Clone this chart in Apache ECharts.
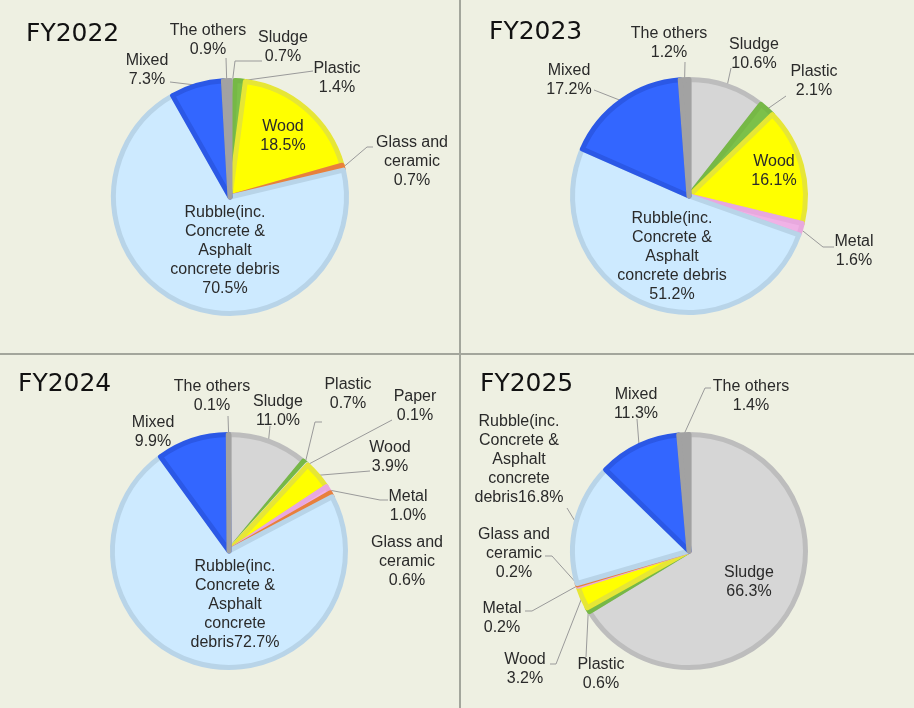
<!DOCTYPE html>
<html>
<head>
<meta charset="utf-8">
<title>Waste composition FY2022-FY2025</title>
<script src="https://cdn.jsdelivr.net/npm/echarts@6/dist/echarts.min.js"></script>
<style>
html, body { margin: 0; padding: 0; background: #eef0e2; }
#chart { width: 914px; height: 708px; }
</style>
</head>
<body>
<div id="chart"></div>
<script>
// data, clockwise from 12 o'clock
const years = ['FY2022', 'FY2023', 'FY2024', 'FY2025']
const categories = ['Sludge', 'Plastic', 'Paper', 'Wood', 'Metal', 'Glass and\nceramic',
  'Rubble(inc.\nConcrete &\nAsphalt\nconcrete debris', 'Mixed', 'The others']
const fy2022 = [0.7, 1.4, null, 18.5, null, 0.7, 70.5, 7.3, 0.9]
const fy2023 = [10.6, 2.1, null, 16.1, 1.6, null, 51.2, 17.2, 1.2]
const fy2024 = [11.0, 0.7, 0.1, 3.9, 1.0, 0.6, 72.7, 9.9, 0.1]
const fy2025 = [66.3, 0.6, null, 3.2, 0.2, 0.2, 16.8, 11.3, 1.4]
const values = [fy2022, fy2023, fy2024, fy2025]

const fills = ['#d6d6d6', '#7cc04a', '#f4f4f4', '#ffff00', '#f0b2e6', '#e8803c', '#cdeaff', '#3366ff', '#a2a2a2']
const borders = ['#bdbdbd', '#76b846', '#dddddd', '#e6e636', '#e8a8de', '#e8803c', '#b8d4e8', '#2b58e6', '#a2a2a2']

// pie placement
const centers = [[230, 197], [689, 196], [229, 551], [689, 551]]
const pieR = 116.5
const titlePos = [[26, 32], [489, 30], [18, 382], [480, 382]]

// label centre [x, y] and optional leader line points (after the slice edge)
const labelPos = [
  [[283, 47, [[235, 61], [262, 61]]], [337, 78, [[313, 71]]], null, [283, 136], null,
    [412, 162, [[367, 147], [373, 147]]], [225, 251], [147, 70, [[170, 82]]], [208, 40, [[226, 58]]]],
  [[754, 54, [[731, 68]]], [814, 81, [[786, 96]]], null, [774, 171], [854, 251, [[823, 247], [834, 247]]],
    null, [672, 257], [569, 80, [[594, 90]]], [669, 43, [[685, 62]]]],
  [[278, 411, [[270, 426]]], [348, 394, [[315, 422], [322, 422]]], [415, 406, [[392, 420]]],
    [390, 457, [[370, 471]]], [408, 506, [[380, 500], [388, 500]]], [407, 562], [235, 605], [153, 432],
    [212, 396, [[228, 416]]]],
  [[749, 582], [601, 674, [[586, 657]]], null, [525, 669, [[556, 664], [550, 664]]],
    [502, 618, [[532, 611], [525, 611]]], [514, 554, [[552, 556], [545, 556]]], [519, 460, [[567, 508]]],
    [636, 404, [[637, 419]]], [751, 396, [[705, 388], [711, 388]]]]
]
// FY2024 / FY2025 wrap the rubble label differently
const compactRubble = [false, false, true, true]

const chart = echarts.init(document.getElementById('chart'))

const layouts = []
const texts = []
const series = years.map((yr, s) => {
  const data = []
  const lay = []
  const txt = []
  const total = values[s].reduce((a, b) => a + (b || 0), 0)
  let acc = 0
  values[s].forEach((v, i) => {
    if (v == null) return
    const p = labelPos[s][i]
    const mid = (acc + v / 2) / total * Math.PI * 2
    acc += v
    const edge = [centers[s][0] + pieR * Math.sin(mid), centers[s][1] - pieR * Math.cos(mid)]
    data.push({
      name: categories[i],
      value: v,
      itemStyle: { color: fills[i], borderColor: borders[i] },
      labelLine: { show: !!p[2] }
    })
    lay.push({ x: p[0], y: p[1], via: p[2], edge: edge })
    let name = categories[i]
    let sep = '\n'
    if (i === 6 && compactRubble[s]) {
      name = 'Rubble(inc.\nConcrete &\nAsphalt\nconcrete\ndebris'
      sep = ''
    }
    txt.push(name + sep + v.toFixed(1) + '%')
  })
  layouts.push(lay)
  texts.push(txt)
  return {
    name: yr,
    type: 'pie',
    center: centers[s],
    radius: pieR,
    startAngle: 90,
    clockwise: true,
    avoidLabelOverlap: false,
    silent: true,
    animation: false,
    emphasis: { disabled: true },
    itemStyle: { borderWidth: 5 },
    label: {
      show: true,
      position: 'outside',
      fontFamily: 'Liberation Sans',
      fontSize: 16,
      lineHeight: 19,
      color: '#2a2a2a',
      align: 'center',
      formatter: (params) => texts[s][params.dataIndex]
    },
    labelLine: { show: true, length: 5, length2: 5, lineStyle: { color: '#9a9a9a', width: 1 } },
    labelLayout: (params) => {
      const l = layouts[s][params.dataIndex]
      const out = { x: l.x, y: l.y, align: 'center', verticalAlign: 'middle' }
      if (l.via) {
        out.labelLinePoints = [l.edge].concat(l.via)
      }
      return out
    },
    data: data
  }
})

const option = {
  backgroundColor: '#eef0e2',
  title: years.map((yr, s) => ({
    text: yr,
    left: titlePos[s][0],
    top: titlePos[s][1] - 10,
    padding: 0,
    textStyle: { fontFamily: 'DejaVu Sans', fontSize: 25, fontWeight: 'normal', color: '#111' }
  })),
  graphic: [
    { type: 'line', shape: { x1: 460, y1: 0, x2: 460, y2: 708 }, style: { stroke: '#a3a69c', lineWidth: 2 } },
    { type: 'line', shape: { x1: 0, y1: 354, x2: 914, y2: 354 }, style: { stroke: '#a3a69c', lineWidth: 2 } }
  ],
  series: series
}
chart.setOption(option)
</script>
</body>
</html>
